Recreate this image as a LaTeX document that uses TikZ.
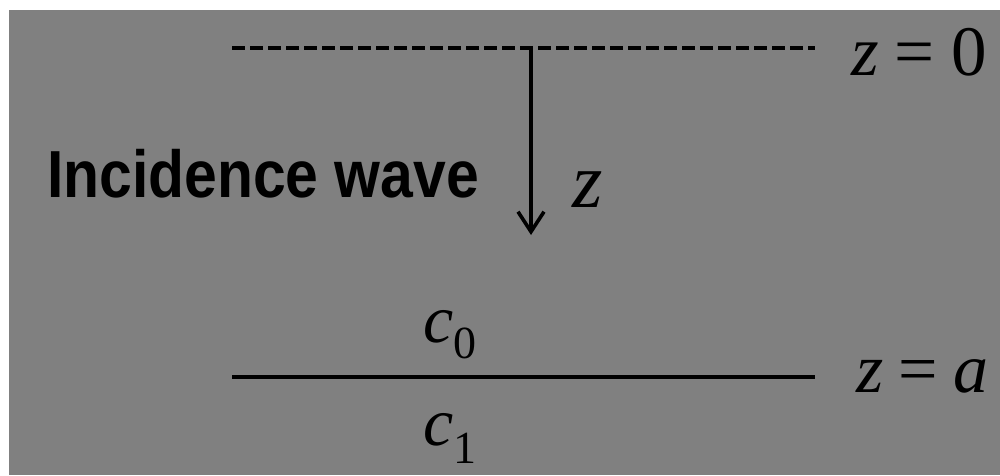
\documentclass[tikz,border=0pt]{standalone}
\usepackage{graphicx}
\usepackage{fontspec}
\setmainfont{Liberation Serif}
\newfontfamily\labelsans{Liberation Sans}
\newfontfamily\labelserif{Liberation Serif}
\usetikzlibrary{arrows.meta}
\definecolor{bggrey}{RGB}{128,128,128}
\begin{document}
\begin{tikzpicture}[x=1pt,y=-1pt,
  lbl/.style={inner sep=0pt, outer sep=0pt, anchor=base west, font=\labelserif\fontsize{70}{80}\selectfont},
  interface/.style={line width=3.6pt, black},
  dashedinterface/.style={line width=3.4pt, black, dash pattern=on 13pt off 5pt},
  zarrow/.style={line width=3.6pt, black, -{Straight Barb[length=20pt,width=26pt,line width=3.6pt]}}
]
\fill[white] (0,0) rectangle (1000,475);
\fill[bggrey] (9,10) rectangle (1000,475);
\useasboundingbox (0,0) rectangle (1000,475);
% interfaces
\coordinate (d0) at (232,48);
\coordinate (d1) at (815,48);
\coordinate (s0) at (232,377);
\coordinate (s1) at (815,377);
\coordinate (atop) at (531,48);
\coordinate (abot) at (531,235);
\draw[dashedinterface] (d0) -- (d1);
\draw[interface] (s0) -- (s1);
\draw[zarrow] (atop) -- (abot);
% labels
\node[lbl, font=\labelserif\fontsize{71}{80}\selectfont] (z0) at (851,75) {\itshape z\upshape\hspace{0.22em}=\hspace{0.24em}0};
\node[lbl] (za) at (856,392) {\itshape z\upshape\hspace{0.22em}=\hspace{0.22em}\itshape a};
\node[lbl, font=\labelserif\fontsize{78}{80}\selectfont] (zlab) at (572,207) {\itshape z};
\node[lbl] (wave) at (47,197) {\scalebox{0.92}[1.04]{\fontsize{64}{80}\selectfont\labelsans\bfseries Incidence wave}};
\node[lbl, font=\labelserif\fontsize{68}{80}\selectfont] (c0) at (423,342) {\itshape c\upshape\raisebox{-16pt}{\fontsize{46}{50}\selectfont 0}};
\node[lbl, font=\labelserif\fontsize{68}{80}\selectfont] (c1) at (423,445) {\itshape c\upshape\raisebox{-18pt}{\fontsize{46}{50}\selectfont 1}};
\end{tikzpicture}
\end{document}
